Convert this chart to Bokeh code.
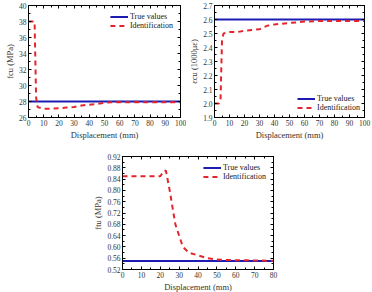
from bokeh.plotting import figure
from bokeh.models import (LinearAxis, FixedTicker, PrintfTickFormatter, Range1d,
                          Legend, LegendItem, Spacer)
from bokeh.layouts import column, row
from bokeh.embed import file_html
from bokeh.resources import INLINE

# ---- data ----
x1 = [0, 4, 5, 6, 10, 15, 20, 25, 30, 35, 40, 45, 50, 55, 60, 70, 80, 90, 100]
y1 = [38, 38, 28.5, 27.3, 27.1, 27.1, 27.15, 27.25, 27.3, 27.5, 27.6, 27.7, 27.85, 27.9, 27.9, 27.9, 27.9, 27.9, 27.9]
true1 = 28

x2 = [0, 3, 4, 5, 6, 10, 15, 20, 25, 30, 35, 40, 50, 60, 70, 80, 90, 100]
y2 = [2.0, 2.0, 2.02, 2.45, 2.5, 2.51, 2.51, 2.52, 2.525, 2.53, 2.555, 2.565, 2.575, 2.585, 2.59, 2.59, 2.59, 2.59]
true2 = 2.6

x3 = [0, 20, 22, 23, 25, 28, 32, 35, 40, 45, 50, 60, 70, 80]
y3 = [0.85, 0.85, 0.87, 0.87, 0.80, 0.68, 0.60, 0.58, 0.57, 0.56, 0.555, 0.553, 0.552, 0.551]
true3 = 0.55

FONT = "Liberation Serif"
BLUE = "#1c1cb4"
RED = "#e3262e"


def make(xs, ys, true_y, xr, yr, xticks, yticks, fmt, ylabel, legend_loc,
         left, top, fw, fh, right, bottom):
    p = figure(output_backend="svg", toolbar_location=None,
               frame_width=fw, frame_height=fh,
               x_range=Range1d(*xr), y_range=Range1d(*yr),
               min_border_left=left, min_border_top=top,
               min_border_right=right, min_border_bottom=bottom,
               x_axis_location=None, y_axis_location=None)
    p.grid.visible = False
    p.outline_line_color = "black"
    p.outline_line_width = 1
    p.background_fill_color = "white"
    p.border_fill_color = "white"

    def style(ax, labels):
        ax.major_tick_in = 3
        ax.major_tick_out = 0
        ax.minor_tick_in = 2
        ax.minor_tick_out = 0
        ax.axis_line_color = "black"
        ax.major_tick_line_color = "black"
        ax.minor_tick_line_color = "black"
        ax.major_label_text_font = FONT
        ax.major_label_text_font_size = "7.5px"
        ax.major_label_text_color = "#333333"
        ax.axis_label_text_font = FONT
        ax.axis_label_text_font_size = "8.5px"
        ax.axis_label_text_font_style = "normal"
        ax.axis_label_text_color = "#333333"
        if not labels:
            ax.major_label_text_font_size = "0px"
            ax.major_label_text_alpha = 0

    xt = FixedTicker(ticks=xticks, minor_ticks=[t + (xticks[1] - xticks[0]) / 2 for t in xticks[:-1]])
    yt = FixedTicker(ticks=yticks, minor_ticks=[t + (yticks[1] - yticks[0]) / 2 for t in yticks[:-1]])

    xb = LinearAxis(ticker=xt, axis_label="Displacement (mm)")
    style(xb, True)
    xb.major_label_standoff = 2
    xb.axis_label_standoff = 1
    p.add_layout(xb, "below")
    yl = LinearAxis(ticker=yt, axis_label=ylabel, formatter=PrintfTickFormatter(format=fmt))
    style(yl, True)
    yl.major_label_standoff = 2
    yl.axis_label_standoff = 1
    p.add_layout(yl, "left")
    xa = LinearAxis(ticker=xt)
    style(xa, False)
    xa.major_label_standoff = 0
    p.add_layout(xa, "above")
    yr_ = LinearAxis(ticker=yt)
    style(yr_, False)
    yr_.major_label_standoff = 0
    p.add_layout(yr_, "right")

    r_true = p.line([xr[0], xr[1]], [true_y, true_y], line_color=BLUE, line_width=2)
    r_id = p.line(xs, ys, line_color=RED, line_width=2, line_dash="5 4")

    leg = Legend(items=[LegendItem(label="True values", renderers=[r_true]),
                        LegendItem(label="Identification", renderers=[r_id])],
                 location=legend_loc)
    leg.label_text_font = FONT
    leg.label_text_font_size = "8px"
    leg.label_text_color = "#222222"
    leg.glyph_width = 18
    leg.glyph_height = 9
    leg.label_height = 9
    leg.spacing = 0
    leg.padding = 3
    leg.margin = 4
    leg.label_standoff = 2
    leg.border_line_alpha = 0
    leg.background_fill_alpha = 0
    p.add_layout(leg, "center")
    return p


p1 = make(x1, y1, true1, (0, 100), (26, 40), list(range(0, 101, 10)), list(range(26, 41, 2)),
          "%d", "fcu (MPa)", "top_right", 28, 5, 152, 112, 6, 28)
p2 = make(x2, y2, true2, (0, 100), (1.9, 2.7), list(range(0, 101, 10)),
          [round(1.9 + 0.1 * i, 1) for i in range(9)],
          "%.1f", "εcu (1000με)", (80, 2), 28, 5, 150, 112, 8, 28)
p3 = make(x3, y3, true3, (0, 80), (0.52, 0.92), list(range(0, 81, 10)),
          [round(0.52 + 0.04 * i, 2) for i in range(11)],
          "%.2f", "ftu (MPa)", "top_right", 31, 11, 151, 113, 8, 22)

layout = column(row(p1, p2, spacing=0), row(Spacer(width=90, height=10), p3, spacing=0), spacing=0)

open("out.html", "w").write(file_html(layout, INLINE))
